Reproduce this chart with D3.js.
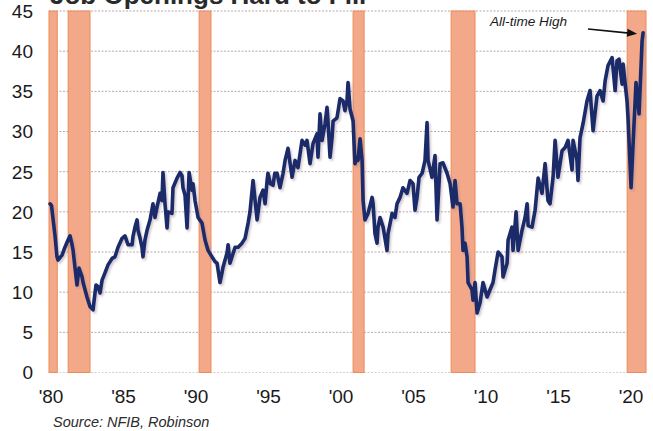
<!DOCTYPE html>
<html>
<head>
<meta charset="utf-8">
<script src="https://cdn.jsdelivr.net/npm/d3@7/dist/d3.min.js"></script>
<style>
  html, body { margin: 0; padding: 0; background: #ffffff; }
  svg { display: block; font-family: "Liberation Sans", Arial, sans-serif; }
</style>
</head>
<body>
<svg id="chart" width="653" height="431"></svg>
<script>
// Job openings hard to fill (% of owners), dates as decimal years
const dates = [
  1980.00, 1980.10, 1980.34, 1980.48, 1980.55, 1980.83, 1981.03, 1981.24, 1981.38, 1981.52,
  1981.59, 1981.72, 1981.86, 1982.00, 1982.21, 1982.28, 1982.55, 1982.76, 1982.97, 1983.03,
  1983.17, 1983.31, 1983.45, 1983.59, 1983.79, 1984.00, 1984.28, 1984.48, 1984.69, 1984.97,
  1985.17, 1985.38, 1985.66, 1985.72, 1985.86, 1986.00, 1986.07, 1986.20, 1986.34, 1986.41,
  1986.55, 1986.69, 1986.90, 1987.10, 1987.24, 1987.38, 1987.59, 1987.72, 1987.79, 1987.93,
  1988.07, 1988.14, 1988.41, 1988.48, 1988.76, 1988.97, 1989.10, 1989.17, 1989.31, 1989.45,
  1989.59, 1989.79, 1989.86, 1990.00, 1990.21, 1990.48, 1990.69, 1990.90, 1991.17, 1991.38,
  1991.52, 1991.72, 1991.86, 1991.93, 1992.21, 1992.28, 1992.41, 1992.55, 1992.76, 1992.97,
  1993.24, 1993.45, 1993.66, 1993.79, 1994.00, 1994.28, 1994.48, 1994.69, 1994.83, 1994.97,
  1995.03, 1995.20, 1995.38, 1995.50, 1995.66, 1995.86, 1996.07, 1996.21, 1996.41, 1996.69,
  1996.90, 1997.10, 1997.38, 1997.59, 1997.72, 1997.93, 1998.14, 1998.41, 1998.48, 1998.62,
  1998.76, 1998.97, 1999.10, 1999.17, 1999.31, 1999.45, 1999.52, 1999.79, 2000.00, 2000.21,
  2000.34, 2000.48, 2000.55, 2000.69, 2000.90, 2001.03, 2001.17, 2001.24, 2001.38, 2001.52,
  2001.59, 2001.72, 2001.93, 2002.21, 2002.28, 2002.41, 2002.55, 2002.62, 2002.76, 2002.97,
  2003.24, 2003.31, 2003.59, 2003.79, 2003.93, 2004.14, 2004.34, 2004.62, 2004.83, 2005.03,
  2005.17, 2005.31, 2005.45, 2005.66, 2005.86, 2006.00, 2006.07, 2006.34, 2006.55, 2006.69,
  2006.90, 2007.10, 2007.38, 2007.59, 2007.79, 2007.93, 2008.07, 2008.28, 2008.41, 2008.48,
  2008.62, 2008.76, 2008.83, 2009.10, 2009.17, 2009.31, 2009.45, 2009.66, 2009.86, 2010.14,
  2010.34, 2010.55, 2010.69, 2010.90, 2011.17, 2011.24, 2011.52, 2011.59, 2011.86, 2011.93,
  2012.14, 2012.28, 2012.55, 2012.76, 2012.90, 2012.97, 2013.24, 2013.45, 2013.66, 2013.93,
  2014.14, 2014.34, 2014.48, 2014.69, 2014.83, 2015.03, 2015.31, 2015.52, 2015.72, 2016.00,
  2016.07, 2016.34, 2016.41, 2016.55, 2016.76, 2017.03, 2017.24, 2017.45, 2017.72, 2017.93,
  2018.14, 2018.28, 2018.48, 2018.76, 2018.97, 2019.10, 2019.24, 2019.45, 2019.52, 2019.79,
  2019.86, 2020.07, 2020.21, 2020.41, 2020.62, 2020.83, 2020.90
];
const values = [
  21.0, 20.8, 17.1, 14.4, 14.0, 14.6, 15.6, 16.5, 17.0, 15.9,
  15.2, 13.1, 10.9, 13.0, 11.9, 11.2, 9.4, 8.2, 7.8, 8.8,
  10.9, 10.7, 9.9, 11.5, 12.4, 13.4, 14.2, 14.4, 15.6, 16.7,
  17.0, 15.9, 15.9, 16.9, 18.1, 19.0, 17.7, 16.8, 15.6, 14.4,
  16.5, 17.7, 19.0, 21.0, 19.3, 20.6, 22.3, 21.4, 24.9, 21.0,
  18.0, 20.0, 19.8, 23.0, 24.2, 24.9, 24.5, 23.0, 22.1, 18.0,
  24.9, 22.7, 23.5, 21.4, 19.3, 18.6, 16.5, 15.2, 14.4, 13.8,
  13.6, 11.2, 12.4, 13.1, 14.9, 15.9, 13.6, 14.4, 15.6, 15.6,
  16.1, 16.7, 18.6, 20.0, 23.9, 19.0, 21.8, 22.7, 21.0, 23.9,
  24.8, 23.5, 23.3, 24.8, 24.8, 23.0, 24.8, 26.4, 27.9, 24.3,
  26.4, 25.5, 28.9, 28.3, 28.9, 26.0, 28.5, 29.7, 26.8, 32.2,
  28.9, 31.0, 33.0, 31.3, 26.8, 29.2, 31.3, 31.7, 34.1, 33.8,
  32.6, 33.8, 36.1, 32.8, 31.3, 26.0, 26.8, 26.4, 29.1, 26.4,
  21.4, 19.0, 19.8, 21.8, 21.0, 17.3, 16.1, 18.1, 19.3, 18.1,
  15.2, 17.3, 19.8, 19.3, 21.0, 21.8, 23.0, 22.3, 23.9, 23.5,
  20.2, 21.8, 24.3, 24.8, 26.4, 31.1, 26.4, 24.3, 27.0, 19.0,
  26.0, 26.1, 24.8, 23.5, 20.6, 23.9, 21.0, 21.0, 18.1, 15.2,
  16.1, 14.4, 11.2, 10.3, 9.0, 11.2, 7.4, 8.7, 11.2, 9.4,
  10.3, 11.2, 12.8, 15.0, 14.4, 11.9, 13.6, 16.5, 18.1, 15.2,
  20.0, 15.2, 17.7, 19.3, 21.0, 18.3, 18.1, 20.2, 24.2, 22.3,
  26.0, 21.4, 21.0, 24.3, 28.9, 24.3, 27.6, 28.0, 28.9, 25.2,
  28.9, 26.4, 23.9, 29.2, 31.0, 33.8, 35.1, 30.1, 34.4, 35.1,
  33.8, 36.3, 38.2, 39.2, 35.1, 38.8, 39.0, 35.9, 38.4, 33.8,
  31.7, 23.0, 28.5, 36.1, 32.2, 41.3, 42.3
];

// Recession periods (start / end, decimal years)
const recessionStart = [1979.93, 1981.25, 1990.28, 2000.90, 2007.66, 2019.80];
const recessionEnd   = [1980.50, 1982.76, 1991.10, 2001.66, 2009.31, 2021.10];

// Axis ticks
const xTickYears  = [1980, 1985, 1990, 1995, 2000, 2005, 2010, 2015, 2020];
const xTickLabels = ["'80", "'85", "'90", "'95", "'00", "'05", "'10", "'15", "'20"];
const yTicks      = [0, 5, 10, 15, 20, 25, 30, 35, 40, 45];

const titleText  = "Job Openings Hard to Fill";
const sourceText = "Source: NFIB, Robinson";
const noteText   = "All-time High";

const svg = d3.select("#chart");

const x = d3.scaleLinear().domain([1979.93, 2021.1]).range([49, 646]);
const y = d3.scaleLinear().domain([0, 45]).range([372.5, 11]);

// soft shadow under the series line
const defs = svg.append("defs");
defs.append("filter").attr("id", "soft")
  .attr("x", "-5%").attr("y", "-5%").attr("width", "110%").attr("height", "110%")
  .append("feGaussianBlur").attr("stdDeviation", 1.1);

// title (runs off the top edge of the page)
svg.append("text")
  .attr("x", 50).attr("y", 4)
  .attr("font-size", 26).attr("font-weight", "bold")
  .attr("fill", "#2a2a2a")
  .text(titleText);

// horizontal dotted gridlines
svg.append("g").selectAll("line")
  .data(yTicks)
  .join("line")
  .attr("x1", x.range()[0]).attr("x2", x.range()[1])
  .attr("y1", d => y(d)).attr("y2", d => y(d))
  .attr("stroke", d => d === 0 ? "#d9cfd2" : "#b9a6aa")
  .attr("stroke-width", 1)
  .attr("stroke-dasharray", "2,1.5");

// recession bands
const recessions = recessionStart.map((s, i) => ({ s, e: recessionEnd[i] }));
svg.append("g").selectAll("rect")
  .data(recessions)
  .join("rect")
  .attr("x", d => x(d.s))
  .attr("width", d => x(d.e) - x(d.s))
  .attr("y", y(45))
  .attr("height", y(0) - y(45))
  .attr("fill", "#f3a88a")
  .attr("stroke", "#ec8c58")
  .attr("stroke-width", 1);

// series
const series = dates.map((d, i) => ({ t: d, v: values[i] }));
const line = d3.line().x(d => x(d.t)).y(d => y(d.v));

svg.append("path")
  .datum(series)
  .attr("d", line)
  .attr("fill", "none")
  .attr("stroke", "#9c8494")
  .attr("stroke-opacity", 0.45)
  .attr("stroke-width", 3.6)
  .attr("stroke-linejoin", "round")
  .attr("transform", "translate(1.6,2)")
  .attr("filter", "url(#soft)");

svg.append("path")
  .datum(series)
  .attr("d", line)
  .attr("fill", "none")
  .attr("stroke", "#1b2a68")
  .attr("stroke-width", 3.6)
  .attr("stroke-linejoin", "round")
  .attr("stroke-linecap", "round");

// y axis labels
svg.append("g").selectAll("text")
  .data(yTicks)
  .join("text")
  .attr("x", 33)
  .attr("y", d => y(d))
  .attr("dy", "0.36em")
  .attr("text-anchor", "end")
  .attr("font-size", 19)
  .attr("fill", "#1a1a1a")
  .text(d => d);

// x axis labels
svg.append("g").selectAll("text")
  .data(xTickYears)
  .join("text")
  .attr("x", d => x(d) + 1)
  .attr("y", 403)
  .attr("text-anchor", "middle")
  .attr("font-size", 19)
  .attr("fill", "#1a1a1a")
  .text((d, i) => xTickLabels[i]);

// source note
svg.append("text")
  .attr("x", 53).attr("y", 427)
  .attr("font-size", 14.5).attr("font-style", "italic")
  .attr("fill", "#2b2b2b")
  .text(sourceText);

// annotation for the last (record) reading
const last = series[series.length - 1];
const tipX = x(last.t) - 6, tipY = y(last.v) + 1;
svg.append("text")
  .attr("x", 490).attr("y", 26)
  .attr("font-size", 13.6).attr("font-style", "italic")
  .attr("fill", "#1a1a1a")
  .text(noteText);

svg.append("line")
  .attr("x1", 588).attr("y1", 29)
  .attr("x2", tipX - 8).attr("y2", tipY - 0.6)
  .attr("stroke", "#111").attr("stroke-width", 1.6);

const ang = Math.atan2(tipY - 29, tipX - 588);
const hl = 10, hw = 4;
const bx = tipX - hl * Math.cos(ang), by = tipY - hl * Math.sin(ang);
svg.append("path")
  .attr("d", d3.line()([
    [tipX, tipY],
    [bx - hw * Math.sin(ang), by + hw * Math.cos(ang)],
    [bx + hw * Math.sin(ang), by - hw * Math.cos(ang)]
  ]) + "Z")
  .attr("fill", "#111");
</script>
</body>
</html>
